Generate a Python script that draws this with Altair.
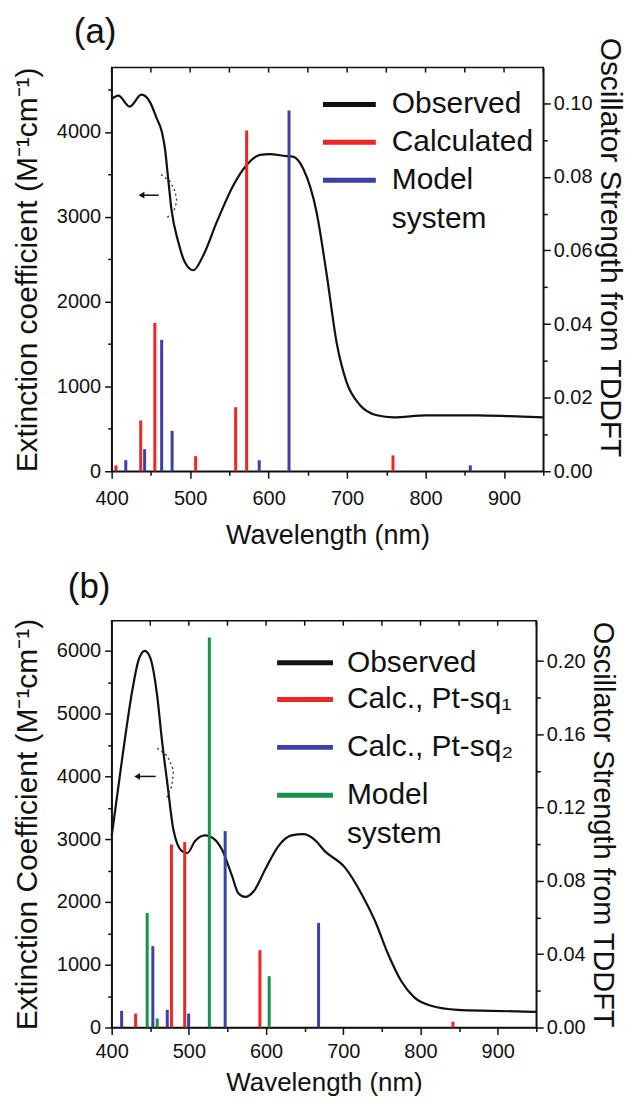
import altair as alt
import pandas as pd

# ---------------- Panel (a) data ----------------
obs_a_wl = [400, 408.5, 423, 438, 449, 457, 464, 468, 472, 476, 485, 493, 504, 517, 534, 555,
            572, 589, 602, 619, 631, 644, 661, 674, 687, 699, 716, 738, 759, 801, 865, 907, 950]
obs_a_eps = [4390, 4430, 4300, 4440, 4350, 4170, 4000, 3800, 3450, 3100, 2700, 2470, 2370, 2550, 2940, 3370,
             3610, 3730, 3740, 3720, 3710, 3570, 3060, 2320, 1500, 1060, 785, 660, 635, 660, 660, 650, 635]

calc_a_wl = [405.5, 437, 455, 507, 558, 572, 758.5]
calc_a_f = [0.0016, 0.0138, 0.0403, 0.0041, 0.0174, 0.0926, 0.0043]
model_a_wl = [418, 442, 463.7, 477, 588, 626, 857]
model_a_f = [0.0030, 0.0060, 0.0357, 0.0110, 0.0030, 0.0980, 0.0016]

series_a = ["Observed", "Calculated", "Model system"]
colors_a = ["#111111", "#ee2624", "#3b40a6"]

arrow_a_wl = [438, 460]
arrow_a_eps = [3255, 3255]
arc_a_wl = [463, 474, 481, 483, 479, 469]
arc_a_eps = [3500, 3420, 3300, 3180, 3060, 2980]

# ---------------- Panel (b) data ----------------
obs_b_wl = [400, 414, 427, 435, 443, 450, 459, 465, 472, 480, 491, 498, 508, 521, 534, 543, 556, 564,
            573, 584, 599, 616, 633, 648, 663, 676, 702, 724, 741, 758, 775, 792, 814, 848, 891, 950]
obs_b_eps = [3050, 4320, 5390, 5860, 6000, 5890, 5280, 4590, 3900, 3150, 2810, 2780, 2970, 3060, 2990, 2830, 2410, 2140,
             2080, 2170, 2520, 2890, 3060, 3080, 2990, 2810, 2550, 2120, 1700, 1170, 740, 480, 345, 280, 265, 250]

calc1_b_wl = [431, 477.4, 494.6, 592, 842]
calc1_b_f = [0.0076, 0.0999, 0.1012, 0.0422, 0.0031]
calc2_b_wl = [412.9, 453.3, 472, 499.7, 547, 668]
calc2_b_f = [0.0091, 0.0444, 0.0096, 0.0076, 0.1072, 0.0571]
model_b_wl = [446, 459, 526.5, 604]
model_b_f = [0.0625, 0.0049, 0.2129, 0.0280]

series_b = ["Observed", "Calc., Pt-sq\u2081", "Calc., Pt-sq\u2082", "Model system"]
colors_b = ["#111111", "#ee2624", "#3b40a6", "#16924a"]

arrow_b_wl = [433, 457]
arrow_b_eps = [4000, 4000]
arc_b_wl = [459, 472, 480, 478, 470]
arc_b_eps = [4450, 4330, 4100, 3850, 3620]

x_ticks = list(range(400, 951, 50))

FONT = "Liberation Sans"
INK = "#111111"


def tick_cond(test, big, small):
    return {"condition": {"test": test, "value": big}, "value": small}


def bars_frame(groups):
    rows = []
    for name, wls, fs in groups:
        for w, f in zip(wls, fs):
            rows.append({"wl": w, "f": f, "series": name})
    return pd.DataFrame(rows)


def one_row():
    return pd.DataFrame({"k": [0]})


def make_panel(label, obs_wl, obs_eps, bar_groups, series, colors, arrow_wl, arrow_eps, arc_wl, arc_eps,
               width, height, ymax_l, left_vals, left_title, ymax_r, right_vals, right_mod, right_title_size,
               right_title_y, legend_rows, legend_line, legend_text_x, legend_lh, label_pos,
               x_label_pad, x_title_pad, x_title_size):
    x_scale = alt.Scale(domain=[400, 950], nice=False, zero=False)
    x_axis = alt.Axis(values=x_ticks, format=".0f",
                      labelExpr="datum.value % 100 == 0 ? datum.label : ''",
                      tickSize=tick_cond("datum.value % 100 == 0", 7, 4),
                      title="Wavelength (nm)", titleFontSize=x_title_size, titlePadding=x_title_pad,
                      labelPadding=x_label_pad)
    left_axis = alt.Axis(orient="left", values=left_vals, format=".0f",
                         labelExpr="datum.value % 1000 == 0 ? datum.label : ''",
                         tickSize=tick_cond("datum.value % 1000 == 0", 7, 4),
                         title=left_title, titleFontSize=30, titlePadding=14, labelPadding=4)
    color_scale = alt.Scale(domain=series, range=colors)

    right_kw = dict(orient="right", values=right_vals, format=".2f",
                    labelExpr=f"round(datum.value*100) % {right_mod} == 0 ? datum.label : ''",
                    tickSize=tick_cond(f"round(datum.value*100) % {right_mod} == 0", 7, 4),
                    title="Oscillator Strength from TDDFT", titleFontSize=right_title_size,
                    titlePadding=2, labelPadding=3)
    if right_title_y is not None:
        right_kw["titleY"] = right_title_y

    X = alt.X("wl:Q", scale=x_scale, axis=x_axis)
    y_left = alt.Scale(domain=[0, ymax_l], nice=False, zero=True)

    obs_df = pd.DataFrame({"wl": obs_wl, "eps": obs_eps})
    line = alt.Chart(obs_df).mark_line(color=INK, strokeWidth=2.2, interpolate="monotone").encode(
        x=X, y=alt.Y("eps:Q", scale=y_left, axis=left_axis),
    )

    bars_df = bars_frame(bar_groups)
    bars = alt.Chart(bars_df).mark_rule(strokeWidth=3).encode(
        x=X,
        y=alt.Y("f:Q", scale=alt.Scale(domain=[0, ymax_r], nice=False, zero=True), axis=alt.Axis(**right_kw)),
        y2=alt.datum(0),
        color=alt.Color("series:N", scale=color_scale, legend=None),
    )

    arrow_df = pd.DataFrame({"wl": arrow_wl, "eps": arrow_eps})
    arrow = alt.Chart(arrow_df).mark_line(color=INK, strokeWidth=1.5).encode(
        x=X, y=alt.Y("eps:Q", scale=y_left, axis=None),
    )
    head = alt.Chart(arrow_df.iloc[[0]]).mark_point(shape="triangle-left", filled=True, size=45,
                                                   color=INK, opacity=1).encode(
        x=X, y=alt.Y("eps:Q", scale=y_left, axis=None),
    )
    arc_df = pd.DataFrame({"wl": arc_wl, "eps": arc_eps, "i": list(range(len(arc_wl)))})
    arc = alt.Chart(arc_df).mark_line(color="#333333", strokeWidth=1.3, strokeDash=[2, 3]).encode(
        x=X, y=alt.Y("eps:Q", scale=y_left, axis=None),
        order="i:Q",
    )

    top_ticks = alt.Chart(pd.DataFrame({"wl": x_ticks})).mark_rule(color=INK, strokeWidth=1.5).encode(
        x=X, y=alt.value(0), y2=alt.value(5),
    )

    # hand-placed legend (line swatch + label per series)
    legend_layers = []
    for name, col, ypx in zip(series, colors, legend_rows):
        legend_layers.append(
            alt.Chart(one_row()).mark_rule(strokeWidth=5, color=col).encode(
                x=alt.value(legend_line[0]), x2=alt.value(legend_line[1]), y=alt.value(ypx))
        )
        legend_layers.append(
            alt.Chart(one_row()).mark_text(align="left", baseline="top", font=FONT, fontSize=30, color=INK,
                                           lineHeight=legend_lh,
                                           text=name.replace(" system", "\nsystem").split("\n")).encode(
                x=alt.value(legend_text_x), y=alt.value(ypx - 15))
        )

    tag = alt.Chart(one_row()).mark_text(align="left", baseline="middle", font=FONT, fontSize=35,
                                         color=INK, text=label).encode(
        x=alt.value(label_pos[0]), y=alt.value(label_pos[1]),
    )

    return alt.layer(line, bars, arrow, head, arc, top_ticks, *legend_layers, tag).resolve_scale(
        y="independent").properties(width=width, height=height)


panel_a = make_panel(
    "(a)", obs_a_wl, obs_a_eps,
    [("Calculated", calc_a_wl, calc_a_f), ("Model system", model_a_wl, model_a_f)],
    series_a, colors_a, arrow_a_wl, arrow_a_eps, arc_a_wl, arc_a_eps,
    width=433, height=405, ymax_l=4760, left_vals=list(range(0, 4501, 500)),
    left_title="Extinction coefficient (M\u207b\u00b9cm\u207b\u00b9)",
    ymax_r=0.1097, right_vals=[round(i * 0.01, 2) for i in range(0, 11)], right_mod=2,
    right_title_size=30, right_title_y=180,
    legend_rows=[37, 75, 113], legend_line=(212, 265), legend_text_x=281, legend_lh=39,
    label_pos=(-38, -36), x_label_pad=10, x_title_pad=14, x_title_size=27,
)

panel_b = make_panel(
    "(b)", obs_b_wl, obs_b_eps,
    [("Calc., Pt-sq\u2081", calc1_b_wl, calc1_b_f), ("Calc., Pt-sq\u2082", calc2_b_wl, calc2_b_f),
     ("Model system", model_b_wl, model_b_f)],
    series_b, colors_b, arrow_b_wl, arrow_b_eps, arc_b_wl, arc_b_eps,
    width=426, height=408, ymax_l=6480, left_vals=list(range(0, 6001, 500)),
    left_title="Extinction Coefficient (M\u207b\u00b9cm\u207b\u00b9)",
    ymax_r=0.222, right_vals=[round(i * 0.02, 2) for i in range(0, 11)], right_mod=4,
    right_title_size=29, right_title_y=None,
    legend_rows=[42, 79, 127, 175], legend_line=(166, 222), legend_text_x=236, legend_lh=39,
    label_pos=(-44, -34), x_label_pad=7, x_title_pad=8, x_title_size=26,
)

chart = alt.vconcat(panel_a, panel_b, spacing=20).resolve_scale(color="independent").properties(
    padding={"left": 3, "top": 4, "right": 4, "bottom": 0},
    background="white",
).configure_view(
    stroke=INK, strokeWidth=1.5,
).configure_axis(
    domainColor=INK, domainWidth=1.5, tickColor=INK, tickWidth=1.5,
    labelColor=INK, labelFont=FONT, labelFontSize=20,
    titleFont=FONT, titleColor=INK, titleFontWeight="normal",
    grid=False, labelFlush=False, labelOverlap=False,
)

chart.save("out.html", embed_options={"renderer": "svg", "actions": False})
